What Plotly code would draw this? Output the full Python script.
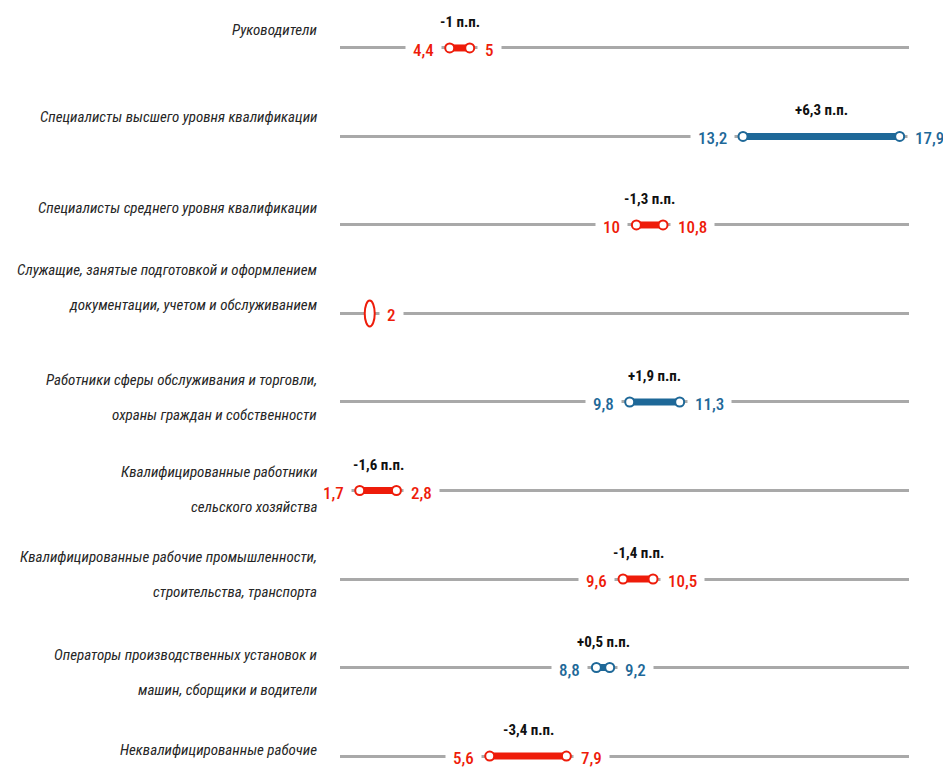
import plotly.graph_objects as go

# Occupational groups (label lines as printed on the chart)
category_lines = [
    ["Руководители"],
    ["Специалисты высшего уровня квалификации"],
    ["Специалисты среднего уровня квалификации"],
    ["Служащие, занятые подготовкой и оформлением", "документации, учетом и обслуживанием"],
    ["Работники сферы обслуживания и торговли,", "охраны граждан и собственности"],
    ["Квалифицированные работники", "сельского хозяйства"],
    ["Квалифицированные рабочие промышленности,", "строительства, транспорта"],
    ["Операторы производственных установок и", "машин, сборщики и водители"],
    ["Неквалифицированные рабочие"],
]
categories = [" ".join(lines) for lines in category_lines]

# Lower and upper share, %
low_values = [4.4, 13.2, 10, 2, 9.8, 1.7, 9.6, 8.8, 5.6]
high_values = [5, 17.9, 10.8, None, 11.3, 2.8, 10.5, 9.2, 7.9]
# Change, percentage points
changes = [-1, 6.3, -1.3, None, 1.9, -1.6, -1.4, 0.5, -3.4]

RED = "#EE1C0A"
BLUE = "#1E6898"
GRID = "#A9A9A9"
LABEL_FONT = "Roboto Condensed, Roboto, sans-serif"
VALUE_FONT = "Roboto Condensed, Roboto, sans-serif"

# vertical offset (px) of each category label block relative to its row line
label_shift = [18, 19, 17, 26, 4, 1, 5, -5, 6]


def fmt(v):
    return f"{v:g}".replace(".", ",")


fig = go.Figure()
annotations = []
shapes = []

for i, cat in enumerate(categories):
    lo, hi, ch = low_values[i], high_values[i], changes[i]
    color = BLUE if (ch is not None and ch > 0) else RED

    if hi is not None:
        fig.add_trace(go.Scatter(
            x=[lo, hi], y=[cat, cat], mode="lines",
            line=dict(color=color, width=7), hoverinfo="skip", showlegend=False,
        ))
        fig.add_trace(go.Scatter(
            x=[lo, hi], y=[cat, cat], mode="markers",
            marker=dict(symbol="circle", size=9, color="white",
                        line=dict(color=color, width=2)),
            hoverinfo="skip", showlegend=False,
        ))
        annotations.append(dict(
            x=hi, y=cat, xref="x", yref="y", text=fmt(hi), showarrow=False,
            xanchor="left", xshift=7, yshift=-2, bgcolor="white", borderpad=7,
            font=dict(family=VALUE_FONT, size=17, color=color, weight=500),
        ))
    else:
        # a single observation is marked by a tall open ellipse
        shapes.append(dict(
            type="circle", xref="x", yref="y", xsizemode="pixel", ysizemode="pixel",
            xanchor=lo, yanchor=i, x0=-5, x1=5, y0=-13, y1=13,
            line=dict(color=color, width=2), fillcolor="white", layer="above",
        ))

    annotations.append(dict(
        x=lo, y=cat, xref="x", yref="y", text=fmt(lo), showarrow=False,
        xanchor=("right" if hi is not None else "left"),
        xshift=(-8 if hi is not None else 9), yshift=-2,
        bgcolor="white", borderpad=7,
        font=dict(family=VALUE_FONT, size=17, color=color, weight=500),
    ))

    if ch is not None:
        annotations.append(dict(
            x=(lo + hi) / 2, y=cat, xref="x", yref="y",
            text=f"<b>{ch:+g}".replace(".", ",") + " п.п.</b>",
            showarrow=False, yshift=26,
            font=dict(family=VALUE_FONT, size=15, color="#111111"),
        ))

    lines = category_lines[i]
    n = len(lines)
    for k, line in enumerate(lines):
        annotations.append(dict(
            x=0, y=cat, xref="paper", yref="y", text=f"<i>{line}</i>",
            showarrow=False, xanchor="right", xshift=-21,
            yshift=label_shift[i] + (n - 1) * 17.5 - k * 35,
            font=dict(family=LABEL_FONT, size=15, color="#262626"),
        ))

fig.update_layout(
    width=943, height=770,
    margin=dict(l=340, r=34, t=0, b=0),
    paper_bgcolor="white", plot_bgcolor="white",
    xaxis=dict(range=[1.108, 18.18], visible=False, fixedrange=True),
    yaxis=dict(
        type="category", categoryorder="array", categoryarray=categories,
        range=[8.158, -0.542], showgrid=True, gridcolor=GRID, gridwidth=2.5,
        showticklabels=False, ticks="", zeroline=False, showline=False,
    ),
    annotations=annotations,
    shapes=shapes,
)

fig.write_html("out.html")
